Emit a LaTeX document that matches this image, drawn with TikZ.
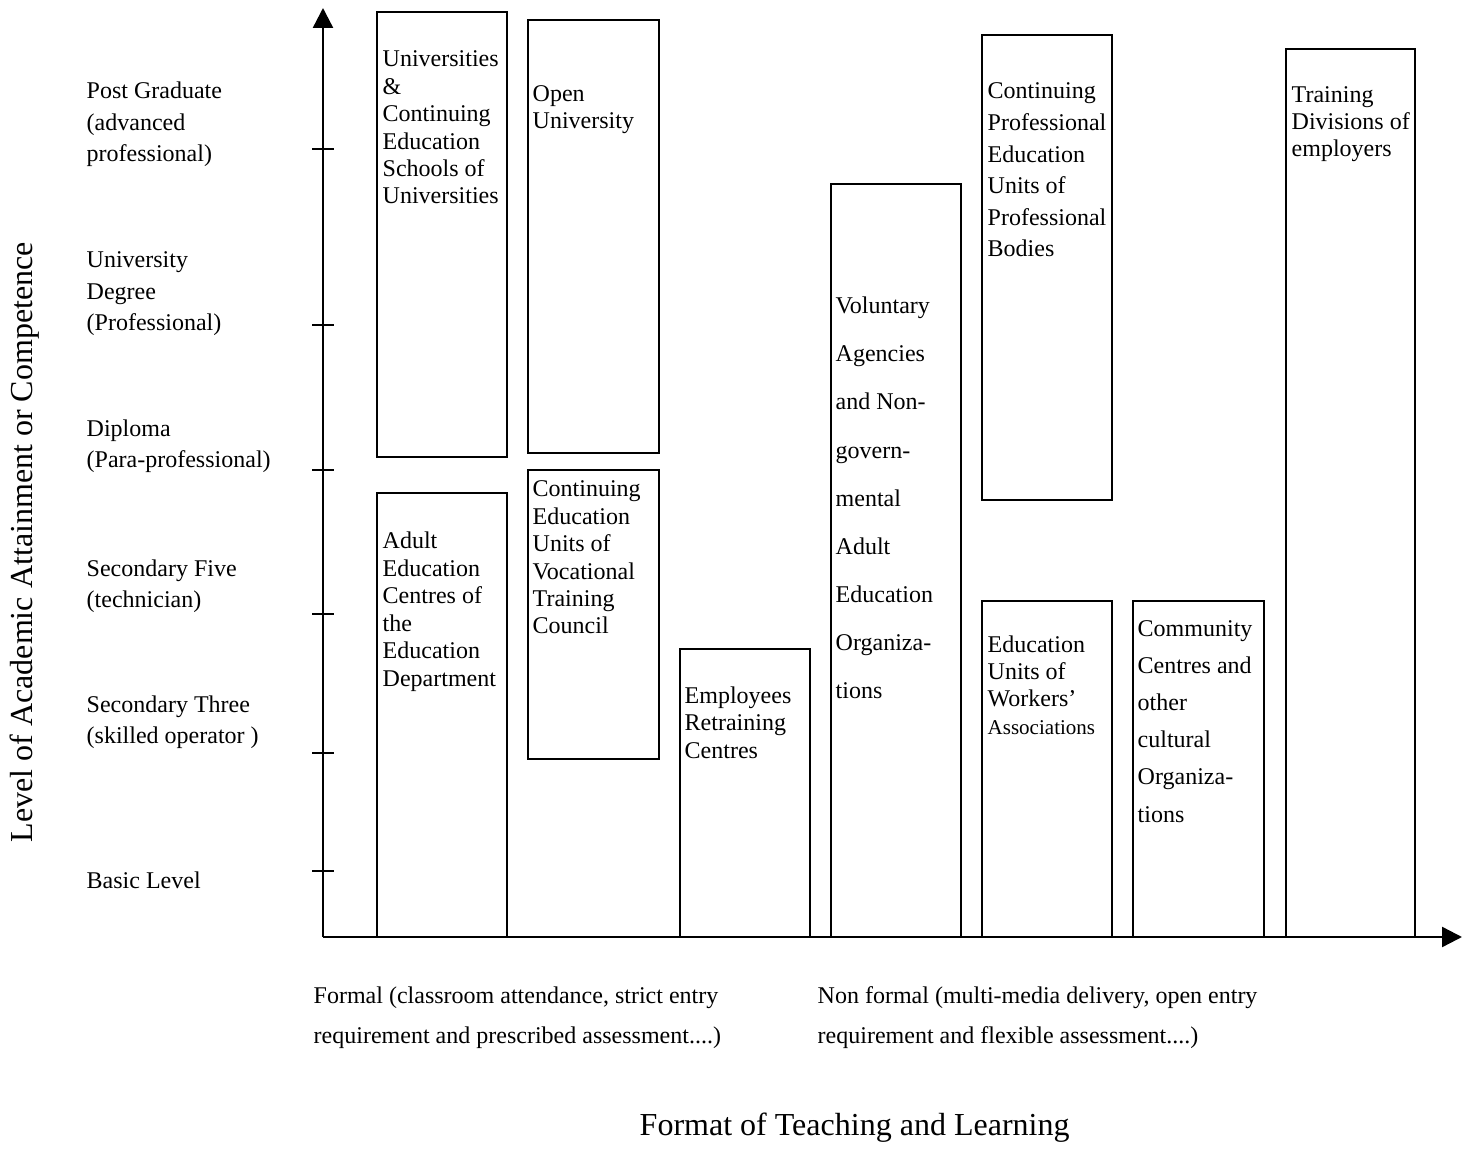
\documentclass[tikz,border=0pt]{standalone}
\usepackage{fontspec}
\setmainfont{Liberation Serif}
\usetikzlibrary{arrows.meta}
\tikzset{
  boxline/.style={line width=0.020cm},
  axisline/.style={line width=0.024cm},
  boxtext/.style={anchor=base west, inner sep=0pt, align=left,
    font=\fontsize{6.83}{7.82}\selectfont},
  leveltext/.style={anchor=base west, inner sep=0pt, align=left,
    font=\fontsize{6.83}{9.0}\selectfont},
}
\begin{document}
\begin{tikzpicture}
                \useasboundingbox (0,0) rectangle (14.630000,11.510000);
                {\footnotesize

                % Drawing axes
                \coordinate (origin) at (3.230000,2.140000);
                \coordinate (ytip) at (3.230000,11.430000);
                \coordinate (xtip) at (14.620000,2.140000);
                \draw [axisline,-{Triangle[length=0.20cm,width=0.20cm]}] (origin) -- (ytip);%
                \draw [axisline,-{Triangle[length=0.20cm,width=0.20cm]}] (origin) -- (xtip);%

                % Drawing ticks on the level axis
                \foreach \ty in {10.020000,8.260000,6.810000,5.370000,3.980000,2.800000}
                  \draw [axisline] (3.120000,\ty) -- (3.340000,\ty);%

                % Marking levels (anchored on the last line)
                \node [leveltext] (postgrad) at (0.860000,9.890000) {Post Graduate\\(advanced\\professional)};%
                \node [leveltext] (degree) at (0.860000,8.200000) {University\\Degree\\(Professional)};%
                \node [leveltext] (diploma) at (0.860000,6.830000) {Diploma\\(Para-professional)};%
                \node [leveltext] (secfive) at (0.860000,5.430000) {Secondary Five\\(technician)};%
                \node [leveltext] (secthree) at (0.860000,4.070000) {Secondary Three\\(skilled operator )};%
                \node [leveltext] (basic) at (0.860000,2.630000) {Basic Level};%

                % Drawing box Universities
                \draw [boxline] (3.770000,11.390000) rectangle (5.070000,6.940000);%
                \node [boxtext] (uniText) at (3.820000,9.470000) {Universities\\\&\\Continuing\\Education\\Schools of\\Universities};%

                % Drawing box Open University
                \draw [boxline] (5.280000,11.310000) rectangle (6.590000,6.980000);%
                \node [boxtext] (openText) at (5.320000,10.220000) {Open\\University};%

                % Drawing box Adult Education Centres
                \draw [boxline] (3.770000,6.580000) rectangle (5.070000,2.140000);%
                \node [boxtext] (adultText) at (3.820000,4.650000) {Adult\\Education\\Centres of\\the\\Education\\Department};%

                % Drawing box Vocational Training Council
                \draw [boxline] (5.280000,6.810000) rectangle (6.590000,3.920000);%
                \node [boxtext] (vtcText) at (5.320000,5.170000) {Continuing\\Education\\Units of\\Vocational\\Training\\Council};%

                % Drawing box Employees Retraining
                \draw [boxline] (6.800000,5.020000) rectangle (8.100000,2.140000);%
                \node [boxtext] (erbText) at (6.840000,3.930000) {Employees\\Retraining\\Centres};%

                % Drawing box Voluntary Agencies
                \draw [boxline] (8.310000,9.670000) rectangle (9.610000,2.140000);%
                \node [boxtext, font=\fontsize{6.83}{13.71}\selectfont] (ngoText) at (8.350000,4.520000)
                  {Voluntary\\Agencies\\and Non-\\govern-\\mental\\Adult\\Education\\Organiza-\\tions};%

                % Drawing box Professional Bodies
                \draw [boxline] (9.820000,11.160000) rectangle (11.120000,6.510000);%
                \node [boxtext, font=\fontsize{6.83}{9.0}\selectfont] (cpeText) at (9.870000,8.940000)
                  {Continuing\\Professional\\Education\\Units of\\Professional\\Bodies};%

                % Drawing box Workers' Associations
                \draw [boxline] (9.820000,5.500000) rectangle (11.120000,2.140000);%
                \node [boxtext, font=\fontsize{6.83}{7.7}\selectfont] (workText) at (9.870000,4.170000)
                  {Education\\Units of\\Workers’\\{\fontsize{5.98}{6.9}\selectfont Associations}};%

                % Drawing box Community Centres
                \draw [boxline] (11.330000,5.500000) rectangle (12.640000,2.140000);%
                \node [boxtext, font=\fontsize{6.83}{10.58}\selectfont] (commText) at (11.370000,3.290000)
                  {Community\\Centres and\\other\\cultural\\Organiza-\\tions};%

                % Drawing box Training Divisions
                \draw [boxline] (12.860000,11.020000) rectangle (14.150000,2.140000);%
                \node [boxtext] (trainText) at (12.910000,9.940000) {Training\\Divisions of\\employers};%

                % Marking formats
                \node [boxtext, font=\fontsize{6.83}{11.1}\selectfont] (formal) at (3.130000,1.080000)
                  {Formal (classroom attendance, strict entry\\requirement and prescribed assessment....)};%
                \node [boxtext, font=\fontsize{6.83}{11.1}\selectfont] (nonformal) at (8.170000,1.080000)
                  {Non formal (multi-media delivery, open entry\\requirement and flexible assessment....)};%

                % Marking axis titles
                \node [anchor=base west, inner sep=0pt, font=\fontsize{9.11}{10.5}\selectfont] (xtitle) at (6.390000,0.160000) {Format of Teaching and Learning};%
                \node [anchor=base west, inner sep=0pt, rotate=90, font=\fontsize{9.11}{10.5}\selectfont] (ytitle) at (0.330000,3.080000) {Level of Academic Attainment or Competence};%
                }
            \end{tikzpicture}
\end{document}
